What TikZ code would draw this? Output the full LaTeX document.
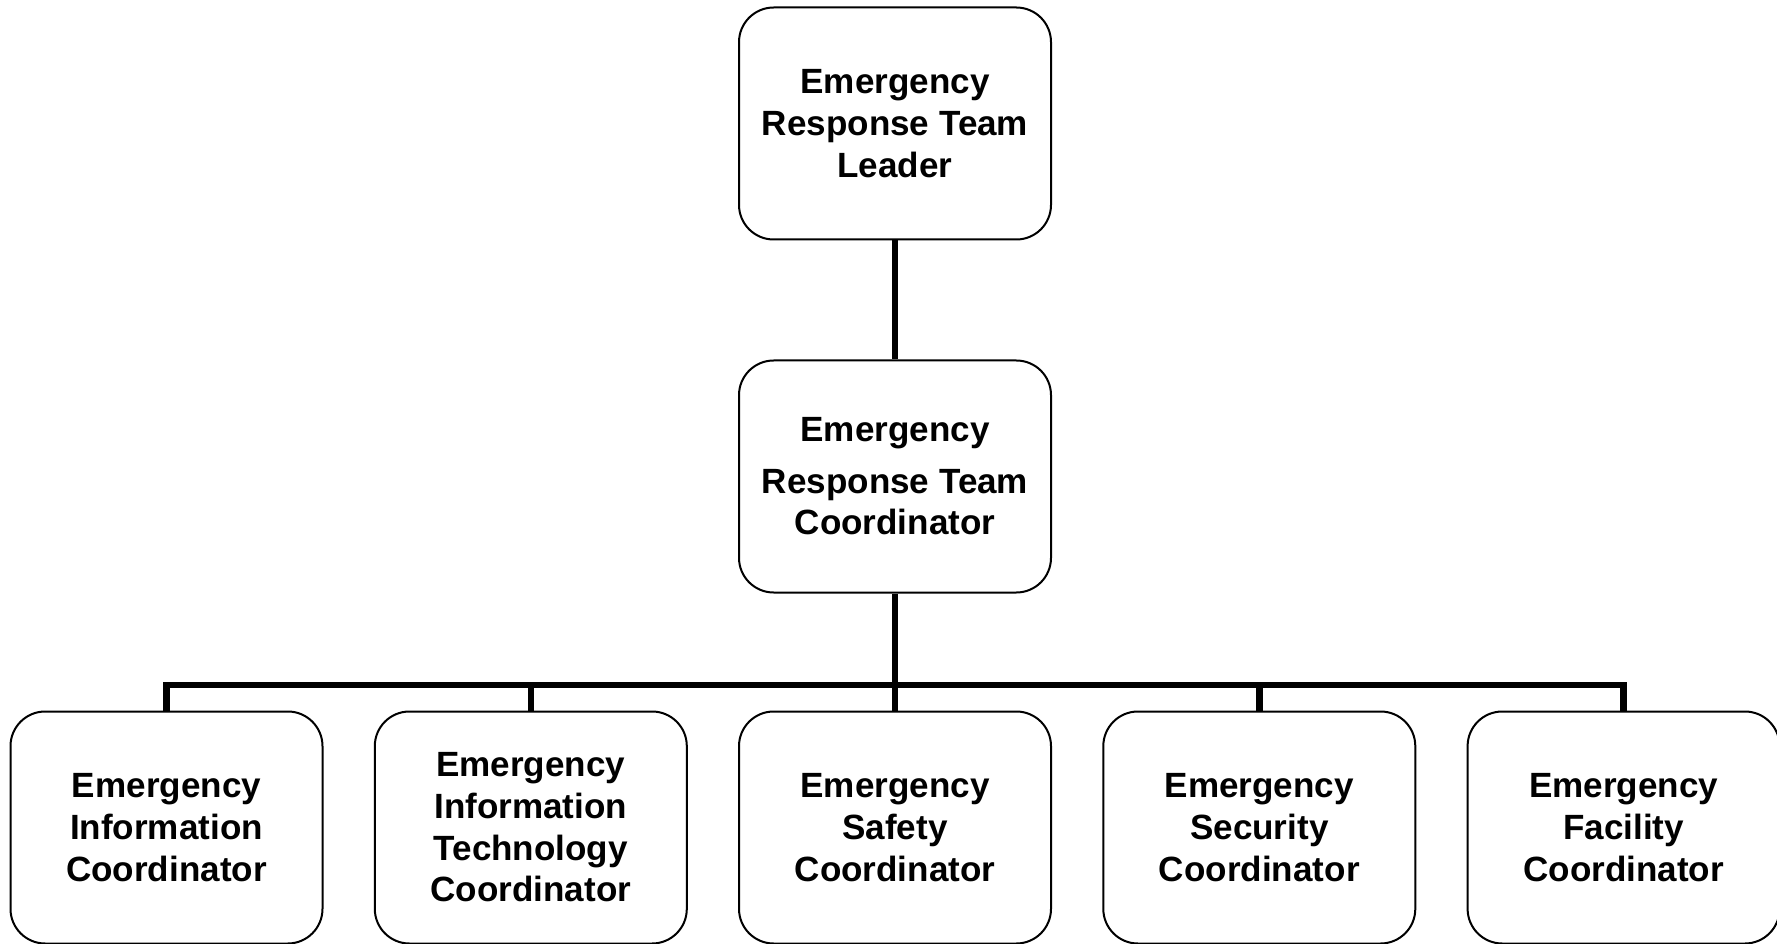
\documentclass[tikz,border=0pt]{standalone}
\usepackage{fontspec}
\setmainfont{Liberation Sans}
\usepackage{tikz}

\tikzset{
  orgbox/.style={draw, line width=1.5pt, rounded corners=26pt, minimum width=234pt, minimum height=174pt,
    inner sep=0pt, align=center, font=\bfseries\fontsize{26.3}{31.3}\selectfont},
  orgline/.style={line width=4.9pt}
}

\begin{document}
\begin{tikzpicture}[x=0.75pt,y=0.75pt,yscale=-1,xscale=1]
\useasboundingbox (0,0) rectangle (1777,944);

% Leader
\node [orgbox] (leader) at (895,123.5) {Emergency\\Response Team\\Leader};
% Coordinator
\node [orgbox] (coord) at (895,476.5) {Emergency\\[7pt]Response Team\\Coordinator};

% Bottom row
\node [orgbox] (info) at (166.5,827.5) {Emergency\\Information\\Coordinator};
\node [orgbox] (itech) at (530.8,827.5) {Emergency\\Information\\Technology\\Coordinator};
\node [orgbox] (safety) at (895,827.5) {Emergency\\Safety\\Coordinator};
\node [orgbox] (security) at (1259.3,827.5) {Emergency\\Security\\Coordinator};
\node [orgbox] (facility) at (1623.6,827.5) {Emergency\\Facility\\Coordinator};

% Connectors
\coordinate (bus) at (895,685);
\draw [orgline] (leader) -- (coord);
\draw [orgline] (coord) -- (safety);
\draw [orgline] (info) |- (bus) -| (facility);
\draw [orgline] (itech) -- (itech |- bus);
\draw [orgline] (security) -- (security |- bus);

\end{tikzpicture}
\end{document}
